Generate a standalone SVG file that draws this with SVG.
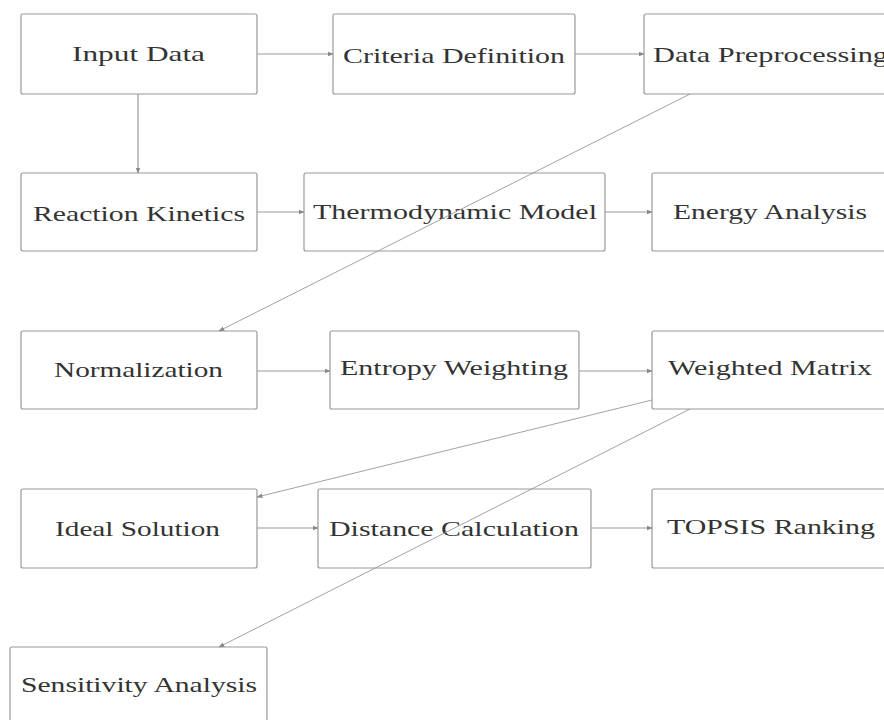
<svg xmlns="http://www.w3.org/2000/svg" width="884" height="720" viewBox="0 0 884 720">
<defs>
<marker id="ah" viewBox="0 0 10 10" refX="9" refY="5" markerWidth="6" markerHeight="6" orient="auto" markerUnits="userSpaceOnUse">
<path d="M0,1 L10,5 L0,9 Z" fill="#888"/>
</marker>
<style>
.box{fill:#fff;stroke:#999;stroke-width:1.2}
.lbl{font-family:"Liberation Serif","DejaVu Serif",serif;font-size:22px;fill:#333}
.edge{fill:none;stroke:#999;stroke-width:1.2;marker-end:url(#ah)}
.diag{fill:none;stroke:#999;stroke-width:0.9;marker-end:url(#ah)}
</style>
</defs>
<rect width="884" height="720" fill="#fff"/>
<g id="n1"><rect class="box" x="21" y="14" width="236" height="80" rx="2"/><text class="lbl" x="72" y="61" textLength="133" lengthAdjust="spacingAndGlyphs">Input Data</text></g>
<g id="n2"><rect class="box" x="333" y="14" width="242" height="80" rx="2"/><text class="lbl" x="343" y="63" textLength="222" lengthAdjust="spacingAndGlyphs">Criteria Definition</text></g>
<g id="n3"><rect class="box" x="644" y="14" width="260" height="80" rx="2"/><text class="lbl" x="653" y="62" textLength="235" lengthAdjust="spacingAndGlyphs">Data Preprocessing</text></g>
<g id="n4"><rect class="box" x="21" y="173" width="236" height="78" rx="2"/><text class="lbl" x="33" y="221" textLength="212" lengthAdjust="spacingAndGlyphs">Reaction Kinetics</text></g>
<g id="n5"><rect class="box" x="304" y="173" width="301" height="78" rx="2"/><text class="lbl" x="313" y="219" textLength="284" lengthAdjust="spacingAndGlyphs">Thermodynamic Model</text></g>
<g id="n6"><rect class="box" x="652" y="173" width="250" height="78" rx="2"/><text class="lbl" x="673" y="219" textLength="194" lengthAdjust="spacingAndGlyphs">Energy Analysis</text></g>
<g id="n7"><rect class="box" x="21" y="331" width="236" height="78" rx="2"/><text class="lbl" x="54" y="377" textLength="169" lengthAdjust="spacingAndGlyphs">Normalization</text></g>
<g id="n8"><rect class="box" x="330" y="331" width="249" height="78" rx="2"/><text class="lbl" x="340" y="375" textLength="228" lengthAdjust="spacingAndGlyphs">Entropy Weighting</text></g>
<g id="n9"><rect class="box" x="652" y="331" width="250" height="78" rx="2"/><text class="lbl" x="668" y="375" textLength="204" lengthAdjust="spacingAndGlyphs">Weighted Matrix</text></g>
<g id="n10"><rect class="box" x="21" y="489" width="236" height="79" rx="2"/><text class="lbl" x="55" y="536" textLength="165" lengthAdjust="spacingAndGlyphs">Ideal Solution</text></g>
<g id="n11"><rect class="box" x="318" y="489" width="273" height="79" rx="2"/><text class="lbl" x="329" y="536" textLength="250" lengthAdjust="spacingAndGlyphs">Distance Calculation</text></g>
<g id="n12"><rect class="box" x="652" y="489" width="250" height="79" rx="2"/><text class="lbl" x="667" y="534" textLength="208" lengthAdjust="spacingAndGlyphs">TOPSIS Ranking</text></g>
<g id="n13"><rect class="box" x="10" y="647" width="257" height="90" rx="2"/><text class="lbl" x="21" y="692" textLength="236" lengthAdjust="spacingAndGlyphs">Sensitivity Analysis</text></g>
<g id="connectors">
<line class="edge" x1="257" y1="54" x2="333" y2="54"/>
<line class="edge" x1="575" y1="54" x2="644" y2="54"/>
<line class="edge" x1="138" y1="94" x2="138" y2="173"/>
<line class="edge" x1="257" y1="212" x2="304" y2="212"/>
<line class="edge" x1="605" y1="212" x2="652" y2="212"/>
<line class="diag" x1="690" y1="94" x2="219" y2="331"/>
<line class="edge" x1="257" y1="371" x2="330" y2="371"/>
<line class="edge" x1="579" y1="371" x2="652" y2="371"/>
<line class="diag" x1="652" y1="400" x2="257" y2="497"/>
<line class="diag" x1="690" y1="409" x2="219" y2="647"/>
<line class="edge" x1="257" y1="528" x2="318" y2="528"/>
<line class="edge" x1="591" y1="528" x2="652" y2="528"/>
</g>
</svg>
